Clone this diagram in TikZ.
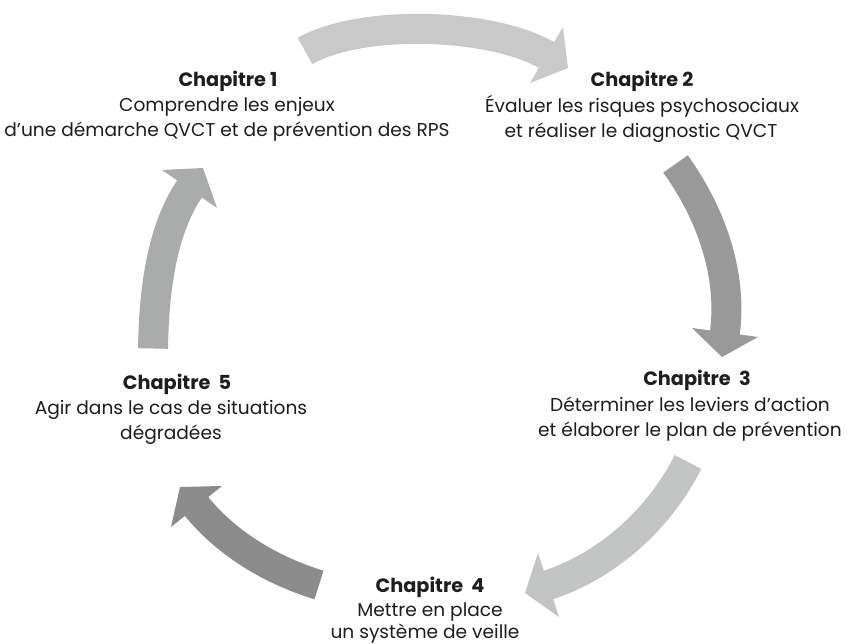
\documentclass[tikz,border=0pt]{standalone}
\usepackage{fontspec}
\setmainfont{Poppins}
\definecolor{arA}{HTML}{C9C9C9}
\definecolor{arB}{HTML}{999999}
\definecolor{arC}{HTML}{C3C5C4}
\definecolor{arD}{HTML}{8C8C8C}
\definecolor{arE}{HTML}{AAACAB}
\definecolor{txt}{HTML}{1E1E1E}
\tikzset{
  shaft/.style={line width=30pt},
  title/.style={anchor=base, font=\fontsize{19.3}{22}\selectfont\bfseries, text=txt, inner sep=0pt},
  body/.style={anchor=base, font=\fontsize{18.6}{22}\selectfont, text=txt, inner sep=0pt},
}
\begin{document}
\begin{tikzpicture}[x=1pt,y=-1pt]
\useasboundingbox[fill=white] (0,0) rectangle (847,644);
% Arrow 1 (top)
\coordinate (a1s) at (305,51);
\coordinate (a1c1) at (361.4,18.8);
\coordinate (a1c2) at (492.3,22.8);
\coordinate (a1e) at (548.2,56.0);
\coordinate (a1b1) at (563,27);
\coordinate (a1b2) at (530,83);
\coordinate (a1t) at (568,68);
\draw[shaft, arA] (a1s) .. controls (a1c1) and (a1c2) .. (a1e);
\fill[arA] (a1b1) -- (a1t) -- (a1b2) -- cycle;
% Arrow 2 (right)
\coordinate (a2s) at (675.5,164);
\coordinate (a2c1) at (710.9,213.1);
\coordinate (a2c2) at (732.9,274.5);
\coordinate (a2e) at (724.7,334.5);
\coordinate (a2b1) at (692,328);
\coordinate (a2b2) at (758,337);
\coordinate (a2t) at (722,357);
\draw[shaft, arB] (a2s) .. controls (a2c1) and (a2c2) .. (a2e);
\fill[arB] (a2b1) -- (a2t) -- (a2b2) -- cycle;
% Arrow 3 (bottom right)
\coordinate (a3s) at (688,462);
\coordinate (a3c1) at (659.2,519);
\coordinate (a3c2) at (607.7,565.8);
\coordinate (a3e) at (546.6,585.6);
\coordinate (a3b1) at (538,553);
\coordinate (a3b2) at (559,617);
\coordinate (a3t) at (525,593);
\draw[shaft, arC] (a3s) .. controls (a3c1) and (a3c2) .. (a3e);
\fill[arC] (a3b1) -- (a3t) -- (a3b2) -- cycle;
% Arrow 4 (bottom left)
\coordinate (a4s) at (319,585);
\coordinate (a4c1) at (271.2,570.3);
\coordinate (a4c2) at (226.7,543.9);
\coordinate (a4e) at (195.2,504.9);
\coordinate (a4b1) at (222,486);
\coordinate (a4b2) at (171,527);
\coordinate (a4t) at (180,487);
\draw[shaft, arD] (a4s) .. controls (a4c1) and (a4c2) .. (a4e);
\fill[arD] (a4b1) -- (a4t) -- (a4b2) -- cycle;
% Arrow 5 (left)
\coordinate (a5s) at (153,348.5);
\coordinate (a5c1) at (154,288.5);
\coordinate (a5c2) at (162,228.5);
\coordinate (a5e) at (190.6,187.4);
\coordinate (a5b1) at (162,170);
\coordinate (a5b2) at (217,208);
\coordinate (a5t) at (203,168);
\draw[shaft, arE] (a5s) .. controls (a5c1) and (a5c2) .. (a5e);
\fill[arE] (a5b1) -- (a5t) -- (a5b2) -- cycle;
% Texts
\node[title] (c1t) at (228,87) {Chapitre 1};
\node[body] (c1a) at (227,112) {Comprendre les enjeux};
\node[body] (c1b) at (227,137) {d’une démarche QVCT et de prévention des RPS};
\node[title] (c2t) at (642,87) {Chapitre 2};
\node[body] (c2a) at (642,113) {Évaluer les risques psychosociaux};
\node[body] (c2b) at (641,138) {et réaliser le diagnostic QVCT};
\node[title] (c3t) at (697,386) {Chapitre\ \ 3};
\node[body] (c3a) at (690,412) {Déterminer les leviers d’action};
\node[body] (c3b) at (690,437) {et élaborer le plan de prévention};
\node[title] (c4t) at (430,592) {Chapitre\ \ 4};
\node[body] (c4a) at (430,616) {Mettre en place};
\node[body] (c4b) at (425,638.5) {un système de veille};
\node[title] (c5t) at (177,390) {Chapitre\ \ 5};
\node[body] (c5a) at (171,415) {Agir dans le cas de situations};
\node[body] (c5b) at (171,440) {dégradées};
\end{tikzpicture}
\end{document}
